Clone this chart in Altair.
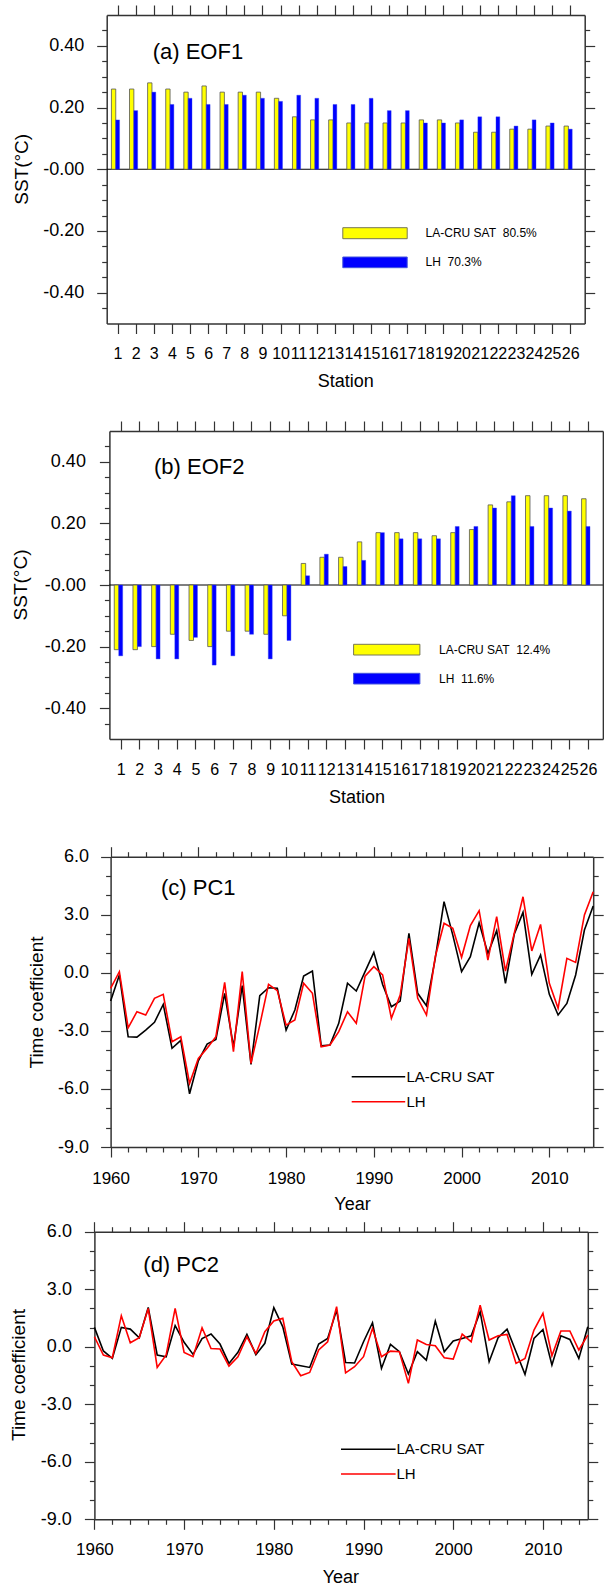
import altair as alt
import pandas as pd

# ---------------------------------------------------------------- data
STATIONS = list(range(1, 27))
EOF1_SAT = [0.26, 0.26, 0.28, 0.26, 0.25, 0.27, 0.25, 0.25, 0.25, 0.23, 0.17, 0.16, 0.16,
            0.15, 0.15, 0.15, 0.15, 0.16, 0.16, 0.15, 0.12, 0.12, 0.13, 0.13, 0.14, 0.14]
EOF1_LH = [0.16, 0.19, 0.25, 0.21, 0.23, 0.21, 0.21, 0.24, 0.23, 0.22, 0.24, 0.23, 0.21,
           0.21, 0.23, 0.19, 0.19, 0.15, 0.15, 0.16, 0.17, 0.17, 0.14, 0.16, 0.15, 0.13]
EOF2_SAT = [-0.21, -0.21, -0.20, -0.16, -0.18, -0.20, -0.15, -0.15, -0.16, -0.10, 0.07, 0.09, 0.09,
            0.14, 0.17, 0.17, 0.17, 0.16, 0.17, 0.18, 0.26, 0.27, 0.29, 0.29, 0.29, 0.28]
EOF2_LH = [-0.23, -0.20, -0.24, -0.24, -0.17, -0.26, -0.23, -0.16, -0.24, -0.18, 0.03, 0.10, 0.06,
           0.08, 0.17, 0.15, 0.15, 0.15, 0.19, 0.19, 0.25, 0.29, 0.19, 0.25, 0.24, 0.19]

YEARS = list(range(1960, 2016))
PC1_SAT = [-1.46, -0.11, -3.30, -3.32, -2.96, -2.56, -1.63, -3.90, -3.49, -6.25,
           -4.55, -3.68, -3.44, -1.06, -3.82, -0.66, -4.73, -1.18, -0.77, -0.80,
           -2.96, -1.92, -0.17, 0.09, -3.77, -3.73, -2.61, -0.54, -0.94, 0.06,
           1.06, -0.60, -1.75, -1.46, 2.04, -1.06, -1.70, 0.75, 3.68, 1.95,
           0.06, 0.83, 2.59, 1.00, 2.18, -0.54, 1.99, 3.12, -0.08, 0.92,
           -1.11, -2.18, -1.58, -0.11, 2.21, 3.45]
PC1_LH = [-0.80, 0.06, -2.84, -2.01, -2.18, -1.32, -1.11, -3.56, -3.30, -5.71,
          -4.42, -3.90, -3.30, -0.49, -4.07, 0.06, -4.68, -2.70, -0.60, -0.92,
          -2.70, -2.44, -0.54, -1.06, -3.82, -3.73, -3.04, -2.01, -2.61, -0.17,
          0.32, -0.11, -2.35, -1.15, 1.78, -1.32, -2.18, 0.83, 2.56, 2.30,
          0.80, 2.44, 3.21, 0.66, 2.90, 0.09, 2.04, 3.93, 1.13, 2.50,
          -0.54, -1.83, 0.75, 0.54, 2.99, 4.19]
PC2_SAT = [1.01, -0.22, -0.61, 1.01, 0.92, 0.47, 2.05, -0.43, -0.52, 1.10,
           0.23, -0.40, 0.43, 0.66, 0.14, -0.87, -0.29, 0.64, -0.42, 0.18,
           2.04, 1.04, -0.90, -0.99, -1.08, 0.14, 0.43, 1.91, -0.82, -0.85,
           0.26, 1.25, -1.13, 0.12, -0.26, -1.42, -0.26, -0.70, 1.34, -0.26,
           0.30, 0.43, 0.57, 1.83, -0.78, 0.47, 0.92, -0.26, -1.44, 0.43,
           0.90, -0.95, 0.57, 0.38, -0.61, 1.04]
PC2_LH = [0.52, -0.43, -0.57, 1.62, 0.21, 0.47, 2.00, -1.08, -0.43, 2.00,
          -0.30, -0.52, 0.99, -0.09, -0.12, -1.01, -0.52, 0.52, -0.35, 0.78,
          1.34, 1.48, -0.78, -1.51, -1.34, -0.17, 0.26, 2.09, -1.36, -1.04,
          -0.52, 0.96, -0.52, -0.23, -0.26, -1.91, 0.35, 0.12, 0.05, -0.57,
          -0.64, 0.66, 0.26, 2.17, 0.35, 0.57, 0.64, -0.87, -0.61, 0.87,
          1.74, -0.47, 0.82, 0.82, -0.17, 0.61]

SERIES = ["LA-CRU SAT", "LH"]
EOF1_LEGEND = ["LA-CRU SAT\u00a0 80.5%", "LH\u00a0 70.3%"]
EOF2_LEGEND = ["LA-CRU SAT\u00a0 12.4%", "LH\u00a0 11.6%"]

BAR_YTICKS = [-0.4, -0.2, 0.0, 0.2, 0.4]
BAR_YMINOR = [-0.45, -0.35, -0.3, -0.25, -0.15, -0.1, -0.05, 0.05, 0.1, 0.15, 0.25, 0.3, 0.35, 0.45]
PC_YTICKS = [-9, -6, -3, 0, 3, 6]
PC_YMINOR = [-8, -7, -5, -4, -2, -1, 1, 2, 4, 5]
PC_XTICKS = [1960, 1970, 1980, 1990, 2000, 2010]
PC_XMINOR = [y for y in range(1962, 2015, 2) if y % 10]

# ---------------------------------------------------------------- layout
W, H = 604, 1587
FONT = "Liberation Sans, Arial, Helvetica, sans-serif"
INK = "#333333"
YELLOW, BLUE = "#ffff00", "#0000ff"

# plot frames (left, right, top, bottom) in canvas pixels
GA = dict(l=106.7, r=584.7, t=15.0, b=323.5)
GB = dict(l=109.4, r=602.9, t=431.0, b=739.0)
GC = dict(l=110.6, r=593.2, t=856.7, b=1147.0)
GD = dict(l=94.4, r=587.8, t=1231.7, b=1519.3)

BAR_XDOM = [0.4, 26.8]
BAR_YDOM = [-0.5, 0.5]
PC_XDOM = [1960, 2015]
PC_YDOM = [-9, 6]

BAR_YLABEL = "datum.value > 0 ? format(datum.value, '.2f') : '-' + format(abs(datum.value), '.2f')"
PC_YLABEL = "(datum.value < 0 ? '-' : '') + format(abs(datum.value), '.1f')"
INT_LABEL = "format(datum.value, 'd')"


def axis(orient, g, values, *, labels=False, size=10, domain=True, fs=18, pad=12, expr=None):
    off = {"left": -g["l"], "right": g["r"] - W, "top": -g["t"], "bottom": g["b"] - H}[orient]
    kw = dict(orient=orient, offset=off, values=values, tickSize=size, tickColor=INK,
              tickWidth=1.2, domain=domain, domainColor=INK, domainWidth=1.5,
              labels=labels, title=None, grid=False, ticks=True)
    if labels:
        kw.update(labelFont=FONT, labelFontSize=fs, labelColor="black", labelPadding=pad,
                  labelOverlap=False, labelFlush=False, labelBound=False)
        if expr:
            kw["labelExpr"] = expr
    return alt.Axis(**kw)


def xscale(g, dom):
    return alt.Scale(domain=dom, range=[g["l"], g["r"]], nice=False, zero=False)


def yscale(g, dom):
    return alt.Scale(domain=dom, range=[g["b"], g["t"]], nice=False, zero=False)


def text(t, x, y, size, *, align="left", baseline="alphabetic", angle=0):
    return alt.Chart(pd.DataFrame({"t": [t]})).mark_text(
        font=FONT, fontSize=size, align=align, baseline=baseline, angle=angle, color="black"
    ).encode(text="t:N", x=alt.value(x), y=alt.value(y))


def swatch(x1, x2, y1, y2, fill, stroke):
    return alt.Chart(pd.DataFrame({"k": [0]})).mark_rect(
        fill=fill, stroke=stroke, strokeWidth=1
    ).encode(x=alt.value(x1), x2=alt.value(x2), y=alt.value(y1), y2=alt.value(y2))


def key_line(x1, x2, y, color):
    return alt.Chart(pd.DataFrame({"k": [0]})).mark_rule(
        color=color, strokeWidth=1.6
    ).encode(x=alt.value(x1), x2=alt.value(x2), y=alt.value(y))


def bar_panel(g, sat, lh, ypad, xpad):
    df = pd.DataFrame({"station": STATIONS, "sat": sat, "lh": lh})
    base = alt.Chart(df)
    yellow = base.transform_calculate(
        x0="datum.station - 0.34", x1="datum.station - 0.10"
    ).mark_rect(fill=YELLOW, stroke="#555555", strokeWidth=0.8).encode(
        x=alt.X("x0:Q", scale=xscale(g, BAR_XDOM),
                axis=axis("bottom", g, STATIONS, labels=True, fs=16, pad=xpad, expr=INT_LABEL)),
        x2="x1:Q",
        y=alt.Y("sat:Q", scale=yscale(g, BAR_YDOM),
                axis=axis("left", g, BAR_YTICKS, labels=True, fs=18, pad=ypad, expr=BAR_YLABEL)),
        y2=alt.datum(0),
    )
    blue = base.transform_calculate(
        x0="datum.station - 0.10", x1="datum.station + 0.11"
    ).mark_rect(fill=BLUE, stroke="#3344ee", strokeWidth=0.4).encode(
        x=alt.X("x0:Q", scale=xscale(g, BAR_XDOM), axis=axis("top", g, STATIONS)),
        x2="x1:Q",
        y=alt.Y("lh:Q", scale=yscale(g, BAR_YDOM), axis=axis("right", g, BAR_YTICKS)),
        y2=alt.datum(0),
    )
    zero = alt.Chart(pd.DataFrame({"a": [BAR_XDOM[0]], "b": [BAR_XDOM[1]], "z": [0.0]})).mark_rule(
        color="black", strokeWidth=1
    ).encode(
        x=alt.X("a:Q", scale=xscale(g, BAR_XDOM), axis=None),
        x2="b:Q",
        y=alt.Y("z:Q", scale=yscale(g, BAR_YDOM), axis=None),
    )
    minor_l = base.mark_point(opacity=0).encode(
        x=alt.X("station:Q", scale=xscale(g, BAR_XDOM), axis=None),
        y=alt.Y("sat:Q", scale=yscale(g, BAR_YDOM),
                axis=axis("left", g, BAR_YMINOR, size=5, domain=False)),
    )
    minor_r = base.mark_point(opacity=0).encode(
        x=alt.X("station:Q", scale=xscale(g, BAR_XDOM), axis=None),
        y=alt.Y("lh:Q", scale=yscale(g, BAR_YDOM),
                axis=axis("right", g, BAR_YMINOR, size=5, domain=False)),
    )
    return [zero, yellow, blue, minor_l, minor_r]


def pc_panel(g, sat, lh, ypad, xpad):
    df = pd.DataFrame({"year": YEARS, "sat": sat, "lh": lh})
    base = alt.Chart(df)
    black = base.mark_line(color="#000000", strokeWidth=1.6).encode(
        x=alt.X("year:Q", scale=xscale(g, PC_XDOM),
                axis=axis("bottom", g, PC_XTICKS, labels=True, fs=17, pad=xpad, expr=INT_LABEL)),
        y=alt.Y("sat:Q", scale=yscale(g, PC_YDOM),
                axis=axis("left", g, PC_YTICKS, labels=True, fs=18, pad=ypad, expr=PC_YLABEL)),
    )
    red = base.mark_line(color="#ff0000", strokeWidth=1.6).encode(
        x=alt.X("year:Q", scale=xscale(g, PC_XDOM), axis=axis("top", g, PC_XTICKS)),
        y=alt.Y("lh:Q", scale=yscale(g, PC_YDOM), axis=axis("right", g, PC_YTICKS)),
    )
    minor_a = base.mark_point(opacity=0).encode(
        x=alt.X("year:Q", scale=xscale(g, PC_XDOM),
                axis=axis("bottom", g, PC_XMINOR, size=5, domain=False)),
        y=alt.Y("sat:Q", scale=yscale(g, PC_YDOM),
                axis=axis("left", g, PC_YMINOR, size=5, domain=False)),
    )
    minor_b = base.mark_point(opacity=0).encode(
        x=alt.X("year:Q", scale=xscale(g, PC_XDOM),
                axis=axis("top", g, PC_XMINOR, size=5, domain=False)),
        y=alt.Y("lh:Q", scale=yscale(g, PC_YDOM),
                axis=axis("right", g, PC_YMINOR, size=5, domain=False)),
    )
    return [black, red, minor_a, minor_b]


layers = []

# (a) EOF1
layers += bar_panel(GA, EOF1_SAT, EOF1_LH, ypad=13, xpad=11.6)
layers += [
    text("(a) EOF1", 152.7, 59.4, 22),
    text("SST(°C)", 21.5, 169.3, 19, align="center", baseline="middle", angle=270),
    text("Station", 345.7, 386.7, 18, align="center"),
    swatch(342.8, 407.2, 227.7, 238.7, YELLOW, "#777755"),
    swatch(342.8, 407.2, 257.0, 267.7, BLUE, "#4455dd"),
    text(EOF1_LEGEND[0], 425.6, 233.2, 12, baseline="middle"),
    text(EOF1_LEGEND[1], 425.6, 262.3, 12, baseline="middle"),
]

# (b) EOF2
layers += bar_panel(GB, EOF2_SAT, EOF2_LH, ypad=14, xpad=12.4)
layers += [
    text("(b) EOF2", 154.0, 473.7, 22),
    text("SST(°C)", 20.5, 585.0, 19, align="center", baseline="middle", angle=270),
    text("Station", 356.9, 803.3, 18, align="center"),
    swatch(353.6, 419.9, 644.3, 655.0, YELLOW, "#777755"),
    swatch(353.6, 419.9, 673.3, 684.0, BLUE, "#4455dd"),
    text(EOF2_LEGEND[0], 439.1, 649.7, 12, baseline="middle"),
    text(EOF2_LEGEND[1], 439.1, 678.7, 12, baseline="middle"),
]

# (c) PC1
layers += pc_panel(GC, PC1_SAT, PC1_LH, ypad=12, xpad=13)
layers += [
    text("(c) PC1", 161.0, 895.4, 22),
    text("Time coefficient", 36.6, 1002.5, 19, align="center", baseline="middle", angle=270),
    text("Year", 352.5, 1210.0, 18, align="center"),
    key_line(351.7, 405.2, 1076.7, "#000000"),
    key_line(351.7, 405.2, 1101.7, "#ff0000"),
    text(SERIES[0], 406.4, 1076.7, 15, baseline="middle"),
    text(SERIES[1], 406.4, 1101.7, 15, baseline="middle"),
]

# (d) PC2
layers += pc_panel(GD, PC2_SAT, PC2_LH, ypad=13, xpad=12)
layers += [
    text("(d) PC2", 143.3, 1272.0, 22),
    text("Time coefficient", 19.3, 1375.0, 19, align="center", baseline="middle", angle=270),
    text("Year", 340.9, 1582.7, 18, align="center"),
    key_line(341.0, 395.6, 1449.3, "#000000"),
    key_line(341.0, 395.6, 1474.0, "#ff0000"),
    text(SERIES[0], 396.4, 1449.3, 15, baseline="middle"),
    text(SERIES[1], 396.4, 1474.0, 15, baseline="middle"),
]

chart = alt.layer(*layers).resolve_scale(
    x="independent", y="independent"
).properties(
    width=W, height=H, padding=0, autosize=alt.AutoSizeParams(type="none")
).configure_view(stroke=None)

chart.save("out.html", embed_options={"renderer": "svg", "actions": False})
